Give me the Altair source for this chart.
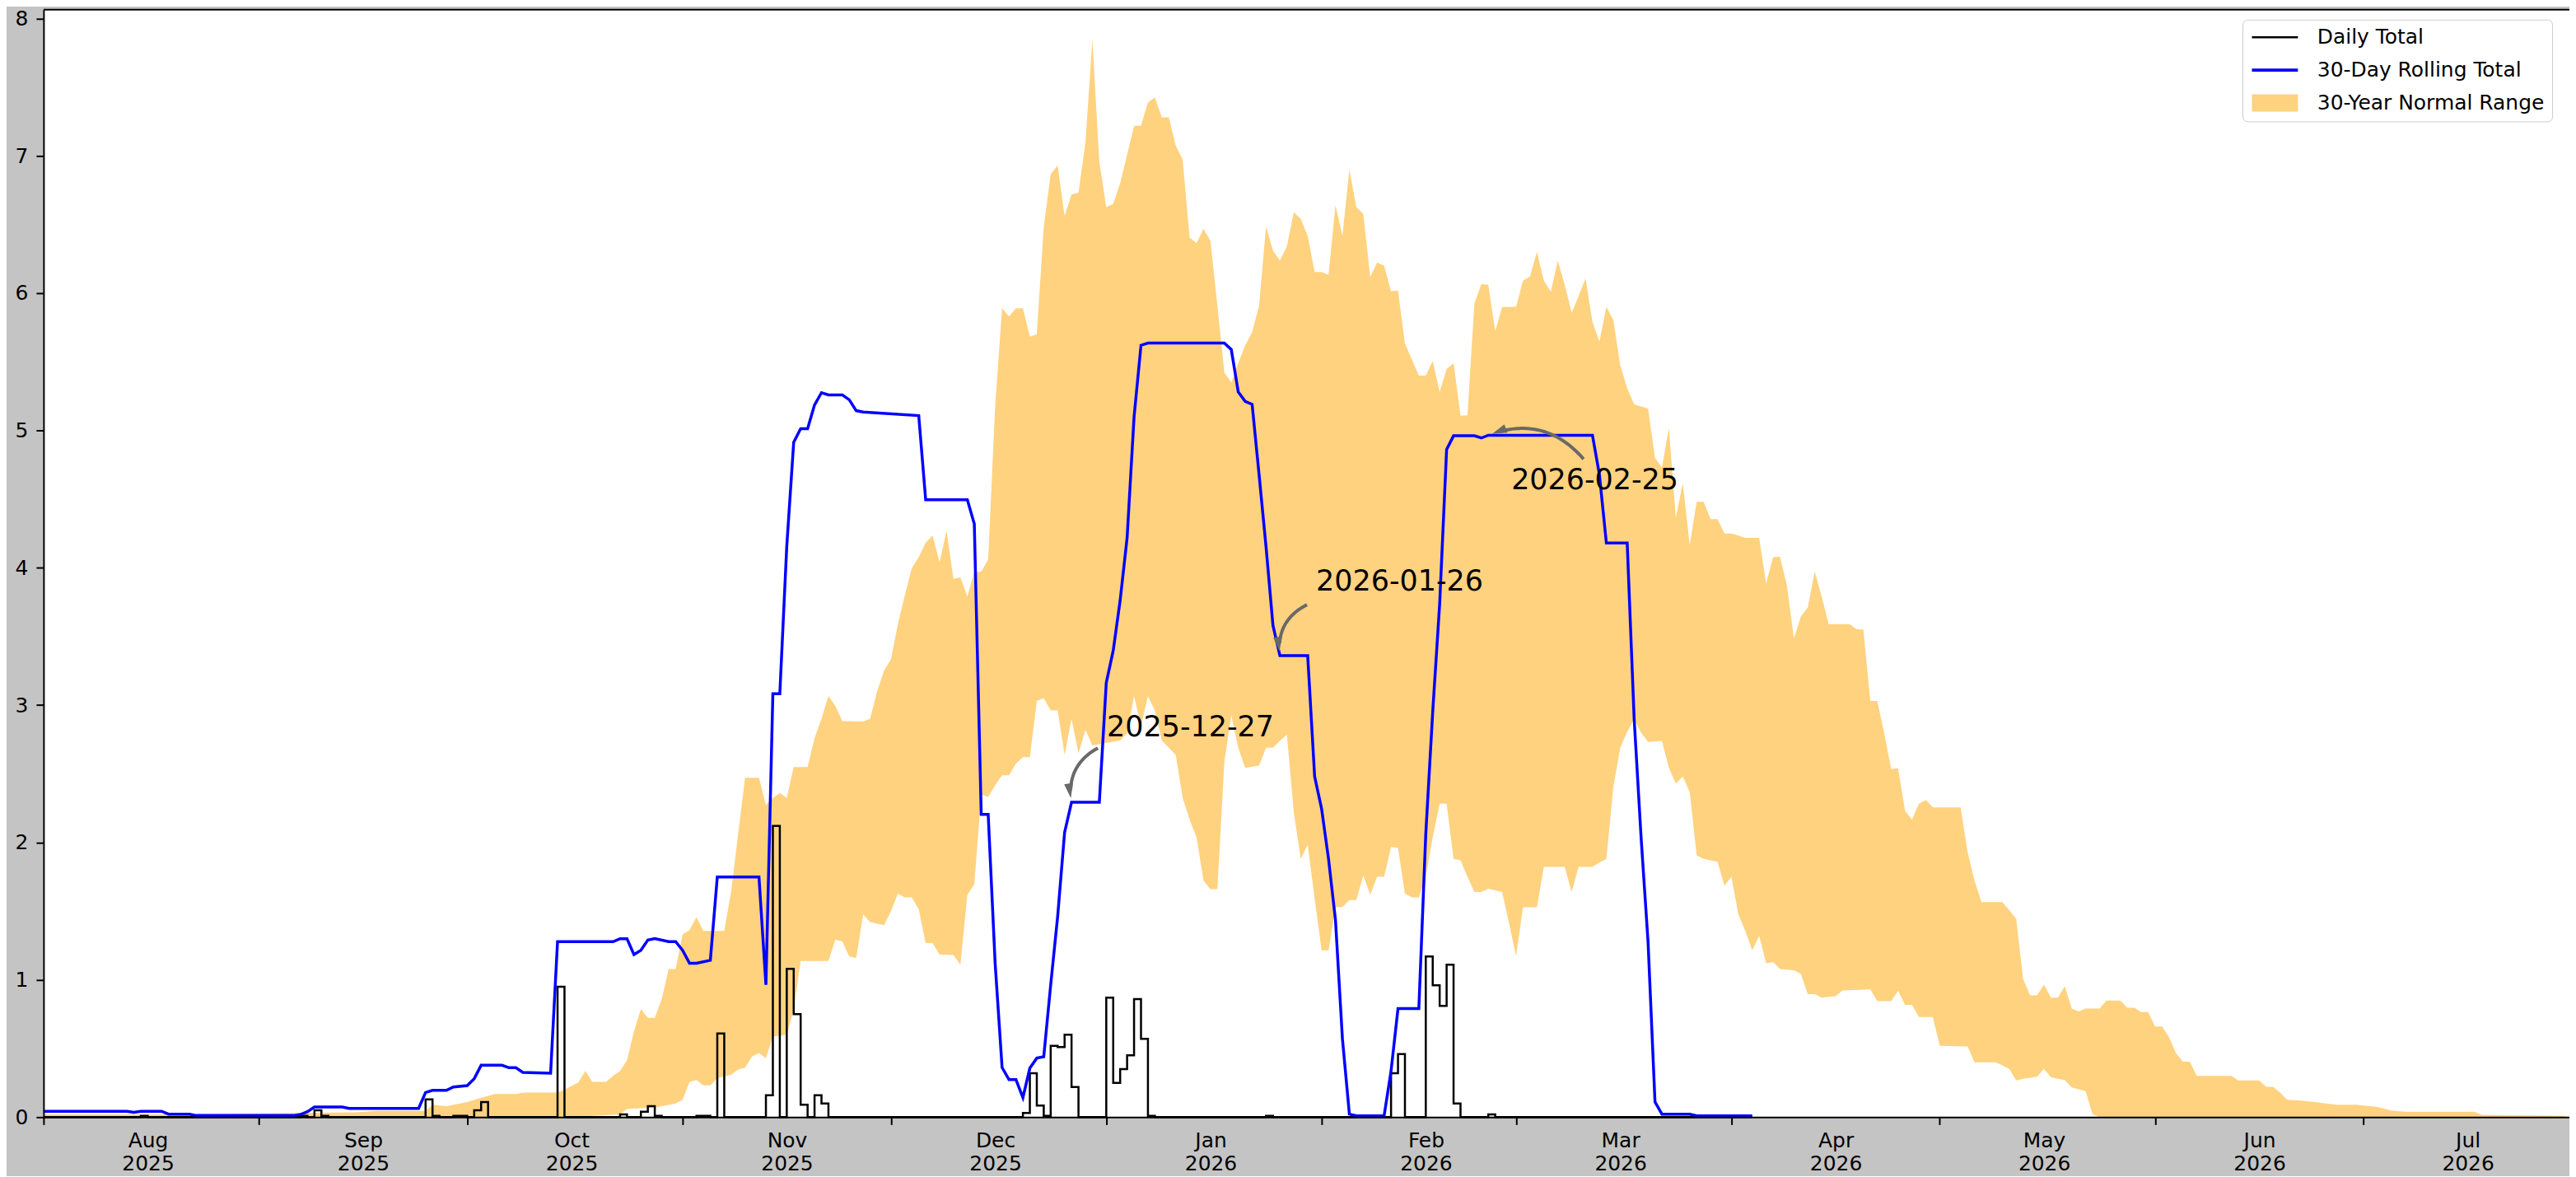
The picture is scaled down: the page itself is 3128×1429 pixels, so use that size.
import math
import numpy as np
import pandas as pd
import altair as alt

# ---------------- data ----------------
START = "2025-08-01"          # day 0 of every day-offset below
LAST_OBS_DAY = 246            # last observed day (early April 2026)

# daily precipitation totals on days with rain (day offset, inches); other days are 0
DAILY_RAIN = [
    (14, 0.01), (37, 0.01), (39, 0.05), (40, 0.01), (55, 0.13), (56, 0.01),
    (59, 0.01), (60, 0.01), (62, 0.05), (63, 0.11), (74, 0.95), (83, 0.02),
    (86, 0.04), (87, 0.08), (88, 0.01), (94, 0.01), (95, 0.01), (97, 0.61),
    (104, 0.16), (105, 2.12), (107, 1.08), (108, 0.75), (109, 0.09), (111, 0.16),
    (112, 0.10), (141, 0.03), (142, 0.32), (143, 0.085), (144, 0.01), (145, 0.52),
    (146, 0.51), (147, 0.60), (148, 0.22), (153, 0.87), (154, 0.25), (155, 0.35),
    (156, 0.45), (157, 0.86), (158, 0.57), (159, 0.01), (176, 0.01), (194, 0.32),
    (195, 0.46), (199, 1.17), (200, 0.96), (201, 0.81), (202, 1.11), (203, 0.10),
    (208, 0.02),
]

# 30-day rolling total (vertices: day offset, inches)
ROLLING = [
    (0, 0.043), (12, 0.043), (13, 0.035), (14, 0.043), (17, 0.043), (18, 0.022),
    (21, 0.022), (22, 0.012), (36, 0.012), (37, 0.02), (38, 0.04), (39, 0.074),
    (43, 0.074), (44, 0.064), (54, 0.064), (55, 0.18), (56, 0.195), (58, 0.195),
    (59, 0.22), (61, 0.23), (62, 0.28), (63, 0.378), (66, 0.378), (67, 0.36),
    (68, 0.36), (69, 0.326), (73, 0.32), (74, 1.278), (82, 1.278), (83, 1.299),
    (84, 1.299), (85, 1.184), (86, 1.215), (87, 1.29), (88, 1.30), (90, 1.278),
    (91, 1.278), (92, 1.215), (93, 1.121), (94, 1.121), (96, 1.142), (97, 1.749),
    (103, 1.749), (104, 0.964), (105, 3.083), (106, 3.083), (107, 4.156),
    (108, 4.914), (109, 5.013), (110, 5.013), (111, 5.186), (112, 5.275),
    (113, 5.259), (115, 5.259), (116, 5.223), (117, 5.144), (118, 5.134),
    (126, 5.108), (127, 4.495), (133, 4.495), (134, 4.32), (135, 2.204),
    (136, 2.204), (137, 1.121), (138, 0.362), (139, 0.273), (140, 0.273),
    (141, 0.143), (142, 0.357), (143, 0.43), (144, 0.44), (145, 0.964),
    (146, 1.461), (147, 2.073), (148, 2.293), (152, 2.293), (153, 3.162),
    (154, 3.397), (155, 3.763), (156, 4.218), (157, 5.097), (158, 5.62),
    (159, 5.636), (170, 5.636), (171, 5.589), (172, 5.28), (173, 5.212),
    (174, 5.19), (175, 4.678), (176, 4.155), (177, 3.58), (178, 3.36),
    (182, 3.36), (183, 2.48), (184, 2.246), (185, 1.88), (186, 1.435),
    (187, 0.571), (188, 0.022), (189, 0.01), (193, 0.01), (194, 0.336),
    (195, 0.791), (198, 0.791), (199, 2.063), (200, 2.952), (201, 3.737),
    (202, 4.862), (203, 4.961), (206, 4.961), (207, 4.945), (208, 4.965),
    (223, 4.965), (224, 4.678), (225, 4.18), (228, 4.18), (229, 2.9),
    (230, 2.036), (231, 1.278), (232, 0.111), (233, 0.022), (237, 0.022),
    (238, 0.01), (246, 0.01),
]

# 30-year normal range: upper edge (day offset, inches)
NORMAL_HIGH = [
    (0, 0.02), (20, 0.02), (37, 0.03), (45, 0.035), (48, 0.045), (55, 0.045),
    (56, 0.09), (58, 0.08), (61, 0.11), (63, 0.142), (65, 0.168), (68, 0.168),
    (69, 0.179), (74, 0.179), (75, 0.2), (77, 0.252), (78, 0.336), (79, 0.257),
    (81, 0.257), (82, 0.30), (83, 0.336), (84, 0.414), (85, 0.624), (86, 0.786),
    (87, 0.723), (88, 0.723), (89, 0.859), (90, 1.079), (91, 1.079), (92, 1.33),
    (93, 1.362), (94, 1.456), (95, 1.356), (98, 1.356), (99, 1.644), (100, 2.063),
    (101, 2.471), (103, 2.471), (104, 2.272), (105, 2.324), (106, 2.361),
    (107, 2.324), (108, 2.549), (110, 2.549), (111, 2.759), (112, 2.9),
    (113, 3.067), (114, 2.994), (115, 2.884), (118, 2.88), (119, 2.9),
    (120, 3.099), (121, 3.25), (122, 3.334), (123, 3.59), (124, 3.8),
    (125, 3.998), (126, 4.077), (127, 4.182), (128, 4.234), (129, 4.04),
    (130, 4.27), (131, 3.92), (132, 3.93), (133, 3.79), (134, 3.97), (135, 3.97),
    (136, 4.06), (137, 5.175), (138, 5.89), (139, 5.83), (140, 5.89), (141, 5.89),
    (142, 5.683), (143, 5.70), (144, 6.484), (145, 6.866), (146, 6.928),
    (147, 6.562), (148, 6.719), (149, 6.73), (150, 7.096), (151, 7.844),
    (152, 6.955), (153, 6.625), (154, 6.65), (155, 6.8), (156, 7.007),
    (157, 7.216), (158, 7.22), (159, 7.389), (160, 7.425), (161, 7.279),
    (162, 7.28), (163, 7.075), (164, 6.97), (165, 6.405), (166, 6.363),
    (167, 6.468), (168, 6.38), (169, 5.908), (170, 5.421), (171, 5.348),
    (172, 5.49), (173, 5.62), (174, 5.714), (175, 5.908), (176, 6.484),
    (177, 6.31), (178, 6.238), (179, 6.34), (180, 6.588), (181, 6.54),
    (182, 6.416), (183, 6.154), (184, 6.154), (185, 6.133), (186, 6.64),
    (187, 6.416), (188, 6.9), (189, 6.625), (190, 6.578), (191, 6.117),
    (192, 6.222), (193, 6.2), (194, 6.013), (195, 6.02), (196, 5.631),
    (197, 5.516), (198, 5.4), (199, 5.4), (200, 5.505), (201, 5.28), (202, 5.448),
    (203, 5.49), (204, 5.107), (205, 5.11), (206, 5.924), (207, 6.065),
    (208, 6.06), (209, 5.725), (210, 5.898), (212, 5.9), (213, 6.091),
    (214, 6.12), (215, 6.3), (216, 6.09), (217, 6.01), (218, 6.238), (219, 6.06),
    (220, 5.856), (221, 5.976), (222, 6.107), (223, 5.788), (224, 5.647),
    (225, 5.9), (226, 5.804), (227, 5.474), (228, 5.307), (229, 5.19),
    (231, 5.16), (232, 4.8), (233, 4.731), (234, 5.019), (235, 4.365),
    (236, 4.616), (237, 4.166), (238, 4.48), (239, 4.48), (240, 4.354),
    (241, 4.354), (242, 4.25), (243, 4.25), (244, 4.234), (245, 4.218),
    (247, 4.218), (248, 3.883), (249, 4.077), (250, 4.08), (251, 3.868),
    (252, 3.486), (253, 3.643), (254, 3.711), (255, 3.972), (256, 3.79),
    (257, 3.59), (260, 3.59), (261, 3.554), (262, 3.55), (263, 3.03),
    (264, 3.03), (265, 2.795), (266, 2.534), (267, 2.54), (268, 2.23),
    (269, 2.167), (270, 2.283), (271, 2.31), (272, 2.256), (276, 2.256),
    (277, 1.932), (278, 1.722), (279, 1.566), (282, 1.566), (283, 1.508),
    (284, 1.445), (285, 1.006), (286, 0.886), (287, 0.886), (288, 0.964),
    (289, 0.87), (290, 0.87), (291, 0.953), (292, 0.791), (293, 0.77),
    (294, 0.79), (296, 0.79), (297, 0.849), (299, 0.849), (300, 0.796),
    (301, 0.796), (302, 0.765), (303, 0.765), (304, 0.66), (305, 0.66),
    (306, 0.582), (307, 0.467), (308, 0.404), (309, 0.404), (310, 0.3),
    (315, 0.3), (316, 0.268), (319, 0.268), (320, 0.221), (321, 0.221),
    (322, 0.179), (323, 0.127), (325, 0.12), (327, 0.11), (330, 0.09),
    (333, 0.09), (336, 0.074), (338, 0.048), (340, 0.04), (350, 0.04),
    (351, 0.017), (363, 0.01),
]

# 30-year normal range: lower edge (day offset, inches)
NORMAL_LOW = [
    (0, 0.0), (76, 0.0), (83, 0.02), (84, 0.06), (88, 0.07), (91, 0.1),
    (92, 0.127), (93, 0.257), (94, 0.27), (95, 0.231), (96, 0.231), (97, 0.284),
    (99, 0.31), (100, 0.347), (101, 0.36), (102, 0.441), (103, 0.467),
    (104, 0.43), (105, 0.587), (107, 0.6), (108, 0.781), (109, 1.137),
    (113, 1.137), (114, 1.293), (115, 1.28), (116, 1.17), (117, 1.16),
    (118, 1.477), (119, 1.42), (121, 1.398), (122, 1.5), (123, 1.628),
    (124, 1.6), (125, 1.6), (126, 1.513), (127, 1.267), (128, 1.267),
    (129, 1.184), (131, 1.18), (132, 1.11), (133, 1.618), (134, 1.696),
    (135, 2.35), (136, 2.33), (137, 2.418), (138, 2.49), (139, 2.49),
    (140, 2.575), (141, 2.622), (142, 2.622), (143, 3.03), (144, 3.05),
    (145, 2.962), (146, 2.962), (147, 2.638), (148, 2.9), (149, 2.65),
    (150, 2.82), (151, 2.706), (155, 2.743), (156, 2.795), (157, 3.067),
    (158, 2.847), (159, 3.067), (160, 2.96), (161, 2.743), (163, 2.638),
    (164, 2.324), (165, 2.167), (166, 2.036), (167, 1.722), (168, 1.66),
    (169, 1.66), (170, 2.586), (171, 2.926), (172, 2.69), (173, 2.544),
    (175, 2.56), (176, 2.69), (177, 2.69), (178, 2.74), (179, 2.785),
    (180, 2.22), (181, 1.88), (182, 1.984), (183, 1.592), (184, 1.215),
    (185, 1.215), (186, 1.529), (187, 1.53), (188, 1.581), (189, 1.581),
    (190, 1.759), (191, 1.62), (192, 1.75), (193, 1.75), (194, 1.968),
    (195, 1.96), (196, 1.628), (197, 1.6), (198, 1.6), (199, 1.75),
    (200, 2.036), (201, 2.283), (202, 2.283), (203, 1.88), (204, 1.87),
    (205, 1.75), (206, 1.64), (207, 1.64), (208, 1.664), (210, 1.64),
    (211, 1.408), (212, 1.173), (213, 1.529), (215, 1.529), (216, 1.822),
    (219, 1.822), (220, 1.64), (221, 1.822), (223, 1.822), (224, 1.853),
    (225, 1.88), (226, 2.402), (227, 2.69), (228, 2.805), (229, 2.9),
    (230, 2.8), (231, 2.732), (233, 2.74), (234, 2.544), (235, 2.429),
    (236, 2.48), (237, 2.366), (238, 1.906), (239, 1.88), (241, 1.86),
    (242, 1.686), (243, 1.75), (244, 1.477), (245, 1.356), (246, 1.215),
    (247, 1.32), (248, 1.121), (249, 1.13), (250, 1.079), (252, 1.07),
    (253, 1.043), (254, 0.896), (255, 0.896), (256, 0.87), (258, 0.88),
    (259, 0.922), (263, 0.93), (264, 0.844), (266, 0.844), (267, 0.92),
    (268, 0.817), (269, 0.817), (270, 0.729), (272, 0.729), (273, 0.519),
    (277, 0.515), (278, 0.399), (281, 0.4), (282, 0.378), (283, 0.352),
    (284, 0.268), (285, 0.28), (287, 0.294), (288, 0.352), (289, 0.29),
    (290, 0.28), (291, 0.27), (292, 0.216), (294, 0.19), (295, 0.02),
    (296, 0.0), (363, 0.0),
]

ANNOT_DATES = ["2025-12-27", "2026-01-26", "2026-02-25"]
LEGEND_LABELS = ["Daily Total", "30-Day Rolling Total", "30-Year Normal Range"]
MONTH_TICKS = [(2025, m) for m in range(8, 13)] + [(2026, m) for m in range(1, 8)]
Y_TICKS = list(range(0, 9))

# ---------------- layout / style ----------------
WIDTH, HEIGHT = 3075, 1348
Y_MAX = 8.063
DOMAIN_DAYS = 363.65
PX_PER_DAY = WIDTH / DOMAIN_DAYS
PX_PER_UNIT = HEIGHT / Y_MAX
FONT = "DejaVu Sans"
BAND_COLOR = "#FFD27F"
ARROW_COLOR = "#696969"
# annotation text offset and arrow tail offset (pixels from the annotated point)
TEXT_OFFSETS = [(43, -91), (44, -90), (28, 55)]
TAIL_OFFSETS = [(32, -66), (33, -62), (116, 29)]
ARC_RAD = 0.35
SHRINK = 5.0
HEAD_LEN = 18.0

start = pd.Timestamp(START)


def to_date(day):
    return start + pd.to_timedelta(day, unit="D")


rain = dict(DAILY_RAIN)
daily_df = pd.DataFrame({
    "date": [to_date(d) for d in range(LAST_OBS_DAY + 1)],
    "value": [rain.get(d, 0.0) for d in range(LAST_OBS_DAY + 1)],
})
roll_df = pd.DataFrame({"date": [to_date(d) for d, _ in ROLLING], "value": [v for _, v in ROLLING]})
high_df = pd.DataFrame({"date": [to_date(d) for d, _ in NORMAL_HIGH], "value": [v for _, v in NORMAL_HIGH]})
low_df = pd.DataFrame({"date": [to_date(d) for d, _ in NORMAL_LOW], "value": [v for _, v in NORMAL_LOW]})

roll_lookup = dict(ROLLING)
shaft_rows, head_rows, text_rows = [], [], []
for k, ds in enumerate(ANNOT_DATES):
    d0 = (pd.Timestamp(ds) - start).days
    v0 = roll_lookup[d0]

    def px_to_data(p):
        return to_date(d0 + p[0] / PX_PER_DAY), v0 - p[1] / PX_PER_UNIT

    P0 = np.array(TAIL_OFFSETS[k], dtype=float)
    P2 = np.array([0.0, 0.0])
    mid = (P0 + P2) / 2
    ddx, ddy = P2 - P0
    C = np.array([mid[0] - ARC_RAD * ddy, mid[1] + ARC_RAD * ddx])
    u = (P2 - C) / np.linalg.norm(P2 - C)
    tip = P2 - SHRINK * u
    i = 0
    for t in np.linspace(0, 1, 60):
        p = (1 - t) ** 2 * P0 + 2 * t * (1 - t) * C + t ** 2 * P2
        if np.linalg.norm(p - P2) < SHRINK + HEAD_LEN * 0.6:
            break
        dt, vv = px_to_data(p)
        shaft_rows.append({"id": k, "i": i, "date": dt, "value": vv})
        i += 1
    dt, vv = px_to_data(tip - HEAD_LEN * 0.5 * u)
    shaft_rows.append({"id": k, "i": i, "date": dt, "value": vv})
    ang = math.degrees(math.atan2(u[0], -u[1])) % 360
    head_rows.append({"id": k, "date": dt, "value": vv, "angle": ang})
    dt, vv = px_to_data(TEXT_OFFSETS[k])
    text_rows.append({"id": k, "date": dt, "value": vv, "label": ds})

shaft_df = pd.DataFrame(shaft_rows)
head_df = pd.DataFrame(head_rows)
text_df = pd.DataFrame(text_rows)
legend_df = pd.DataFrame({"series": LEGEND_LABELS})

# ---------------- scales / axes ----------------
x_scale = alt.Scale(domain=[alt.DateTime(year=2025, month=8, date=1),
                            alt.DateTime(year=2026, month=7, date=30, hours=15, minutes=36)])
y_scale = alt.Scale(domain=[0, Y_MAX], nice=False, zero=True)

x_axis = alt.Axis(
    values=[alt.DateTime(year=y, month=m, date=1) for y, m in MONTH_TICKS],
    labelExpr="[timeFormat(datum.value, '%b'), timeFormat(datum.value, '%Y')]",
    labelOffset=127, labelPadding=7, labelLineHeight=28, labelFlush=False,
    labelOverlap=False, labelBound=False, labelFont=FONT, labelFontSize=25,
    labelColor="black", tickSize=9, tickWidth=2, tickColor="black",
    domainColor="black", domainWidth=2, grid=False, title=None, zindex=1,
)
y_axis = alt.Axis(
    values=Y_TICKS, format="d", labelFont=FONT, labelFontSize=25, labelColor="black",
    labelPadding=10, tickSize=9, tickWidth=2, tickColor="black",
    domainColor="black", domainWidth=2, grid=False, title=None, zindex=1,
    labelFlush=False,
)

X = alt.X("date:T", scale=x_scale, axis=x_axis)
Y = alt.Y("value:Q", scale=y_scale, axis=y_axis)
Xn = alt.X("date:T", scale=x_scale)
Yn = alt.Y("value:Q", scale=y_scale)

# white plotting area (figure background is grey)
plot_bg = alt.Chart(pd.DataFrame({"a": [0]})).mark_rect(color="white").encode(
    x=alt.value(0), x2=alt.value(WIDTH), y=alt.value(0), y2=alt.value(HEIGHT))

band_high = alt.Chart(high_df).mark_area(color=BAND_COLOR, opacity=1).encode(x=X, y=Y)
band_low = alt.Chart(low_df).mark_area(color="white", opacity=1).encode(x=Xn, y=Yn)
daily = alt.Chart(daily_df).mark_line(color="black", strokeWidth=2.5,
                                      interpolate="step-after").encode(x=Xn, y=Yn)
rolling = alt.Chart(roll_df).mark_line(color="#0000FF", strokeWidth=3.5).encode(x=Xn, y=Yn)

shafts = alt.Chart(shaft_df).mark_line(color=ARROW_COLOR, strokeWidth=4).encode(
    x=Xn, y=Yn, detail="id:N", order="i:Q")
heads = alt.Chart(head_df).mark_point(
    shape="M0,-1L0.6,1L-0.6,1Z", filled=True, size=HEAD_LEN ** 2,
    color=ARROW_COLOR, opacity=1, strokeWidth=0,
).encode(x=Xn, y=Yn, angle=alt.Angle("angle:Q", scale=None))
texts = alt.Chart(text_df).mark_text(
    align="left", baseline="middle", font=FONT, fontSize=35, color="black"
).encode(x=Xn, y=Yn, text="label:N")

top_rule = alt.Chart(pd.DataFrame({"a": [0]})).mark_rule(color="black", strokeWidth=2).encode(
    x=alt.value(0), x2=alt.value(WIDTH), y=alt.value(0))

legend_def = alt.Legend(
    title=None, orient="none", legendX=2677, legendY=12,
    labelFont=FONT, labelFontSize=25, labelColor="black", labelOffset=57,
    labelLimit=500, symbolSize=400, symbolStrokeWidth=0, rowPadding=14,
    padding=9, strokeColor="#cccccc", fillColor="rgba(255,255,255,0.8)",
    cornerRadius=6,
)
legend_layer = alt.Chart(legend_df).mark_point(filled=True, opacity=1).encode(
    x=alt.value(-500), y=alt.value(-500),
    color=alt.Color("series:N", scale=alt.Scale(domain=LEGEND_LABELS,
                                                range=["black", "#0000FF", BAND_COLOR]),
                    legend=legend_def),
    shape=alt.Shape("series:N", scale=alt.Scale(
        domain=LEGEND_LABELS,
        range=["M-1,-0.13L4.6,-0.13L4.6,0.13L-1,0.13Z",
               "M-1,-0.19L4.6,-0.19L4.6,0.19L-1,0.19Z",
               "M-1,-1.05L4.6,-1.05L4.6,1.05L-1,1.05Z"]),
        legend=legend_def),
)

chart = alt.layer(
    plot_bg, band_high, band_low, daily, rolling, shafts, heads, texts, top_rule, legend_layer
).properties(
    width=WIDTH, height=HEIGHT, background="#c4c4c4",
    padding={"left": 45, "top": 2, "right": 0, "bottom": 70},
    autosize=alt.AutoSizeParams(type="none"),
).configure_view(stroke=None).configure(font=FONT)

chart.save("out.html", embed_options={"renderer": "svg", "actions": False})
